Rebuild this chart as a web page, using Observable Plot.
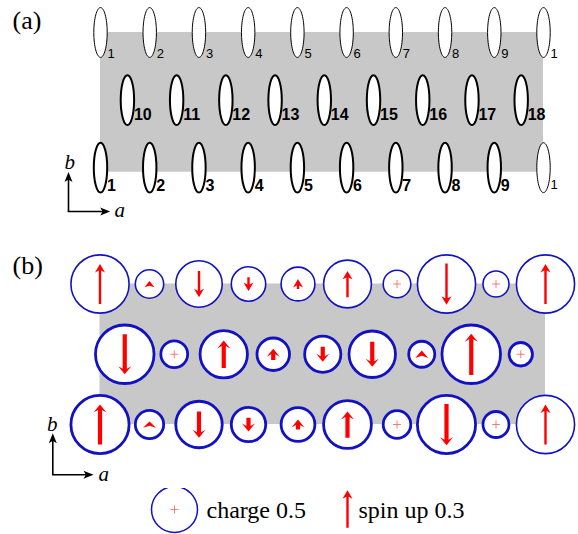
<!DOCTYPE html>
<html>
<head>
<meta charset="utf-8">
<script src="https://cdn.jsdelivr.net/npm/d3@7"></script>
<script src="https://cdn.jsdelivr.net/npm/@observablehq/plot@0.6"></script>
<style>
  html, body { margin: 0; padding: 0; background: #fff; }
  #wrap { width: 578px; height: 534px; overflow: hidden; background: #fff; }
  #wrap svg { display: block; }
</style>
</head>
<body>
<div id="wrap"></div>
<script>
// ---- data -------------------------------------------------------------
// molecules on the cell edges (b = 0 and b = 1); the last one is site 1 of the next cell
const edgeSites    = ["1", "2", "3", "4", "5", "6", "7", "8", "9", "1"];
// molecules in the middle of the cell (b = 1/2)
const centerSites  = ["10", "11", "12", "13", "14", "15", "16", "17", "18"];
// charge on each molecule
const edgeCharge   = [0.80, 0.19, 0.51, 0.28, 0.27, 0.54, 0.18, 0.80, 0.16, 0.80];
const centerCharge = [0.81, 0.17, 0.53, 0.25, 0.31, 0.51, 0.16, 0.81, 0.13];
// spin on each molecule (positive = up)
const edgeSpin     = [0.32, 0.05, -0.21, -0.11, 0.08, 0.21, 0, -0.33, 0, 0.32];
const centerSpin   = [-0.32, 0, 0.22, 0.09, -0.12, -0.20, 0.06, 0.33, 0];
// legend references
const legendCharge = [0.5];
const legendSpin   = [0.3];
// unit cell, in lattice units
const cell = [{a0: 0, a1: edgeSites.length - 1, b0: 0, b1: 1}];

// ---- records built from the arrays -------------------------------------
const sites = [];
for (const b of [1, 0]) {
  edgeSites.forEach((label, i) => sites.push({
    a: i, b, label, charge: edgeCharge[i], spin: edgeSpin[i],
    row: b === 1 ? "top" : "bottom",
    image: b === 1 || i === edgeSites.length - 1
  }));
}
centerSites.forEach((label, i) => sites.push({
  a: i + 0.5, b: 0.5, label, charge: centerCharge[i], spin: centerSpin[i],
  row: "center", image: false
}));
const topRow = sites.filter(d => d.row === "top");
const centerRow = sites.filter(d => d.row === "center");
const bottomMain = sites.filter(d => d.row === "bottom" && !d.image);
const bottomImage = sites.filter(d => d.row === "bottom" && d.image);

// ---- styles --------------------------------------------------------------
const BLUE = "#1212c4", RED = "#ff0000", PLUS = "#ff5c5c", GRAY = "#c8c8c8";
const SANS = "'Liberation Sans', Arial, Helvetica, sans-serif";
const SERIF = "'Liberation Serif', 'Times New Roman', Times, serif";

const ellipse = {
  draw(ctx) {
    const rx = 6.7, ry = 24.9, k = 0.5523;
    ctx.moveTo(rx, 0);
    ctx.bezierCurveTo(rx, k * ry, k * rx, ry, 0, ry);
    ctx.bezierCurveTo(-k * rx, ry, -rx, k * ry, -rx, 0);
    ctx.bezierCurveTo(-rx, -k * ry, -k * rx, -ry, 0, -ry);
    ctx.bezierCurveTo(k * rx, -ry, rx, -k * ry, rx, 0);
    ctx.closePath();
  }
};
const plusSym = {
  draw(ctx) {
    const h = 4;
    ctx.moveTo(-h, 0); ctx.lineTo(h, 0);
    ctx.moveTo(0, -h); ctx.lineTo(0, h);
  }
};
function arrowShape(sw, hw, hl, notch) {
  return {
    draw(ctx, l) {
      if (l > hl) {
        ctx.moveTo(-sw, 0);
        ctx.lineTo(-sw, -l + hl - notch);
        ctx.lineTo(-hw, -l + hl);
        ctx.lineTo(0, -l);
        ctx.lineTo(hw, -l + hl);
        ctx.lineTo(sw, -l + hl - notch);
        ctx.lineTo(sw, 0);
        ctx.closePath();
      } else {
        const n = notch * l / hl;
        ctx.moveTo(0, -l);
        ctx.lineTo(hw, 0);
        ctx.lineTo(0, -n);
        ctx.lineTo(-hw, 0);
        ctx.closePath();
      }
    }
  };
}
const thinArrow = arrowShape(1.2, 5, 8.5, 2);
const thickArrow = arrowShape(2.1, 6.5, 8, 2.5);
const keyArrow = arrowShape(0.8, 4, 10, 2);

const rScale = {type: "sqrt", domain: [0, 0.5], range: [0, 23]};
const lengthScale = {type: "linear", domain: [0, 0.3], range: [0, 37.5]};

// ---- panel (a) -------------------------------------------------------------
const plotA = Plot.plot({
  width: 578, height: 232,
  marginLeft: 100, marginRight: 35, marginTop: 32, marginBottom: 64.8,
  x: {domain: [0, 9], axis: null},
  y: {domain: [0, 1], axis: null},
  marks: [
    Plot.rect(cell, {x1: "a0", x2: "a1", y1: "b0", y2: "b1", fill: GRAY, insetBottom: -4.5}),
    Plot.dot(sites.filter(d => d.row !== "center"), {
      x: "a", y: "b", symbol: ellipse, fill: "white", stroke: "black",
      strokeWidth: d => d.image ? 1 : 2
    }),
    Plot.dot(centerRow, {x: "a", y: "b", dx: 2.3, symbol: ellipse, fill: "white", stroke: "black", strokeWidth: 2}),
    Plot.text(topRow, {x: "a", y: "b", text: "label", dx: 7, dy: 25.3, textAnchor: "start", lineAnchor: "bottom",
      fontSize: 13, fontFamily: SANS, fill: "black"}),
    Plot.text(centerRow, {x: "a", y: "b", text: "label", dx: 8.8, dy: 20.2, textAnchor: "start", lineAnchor: "bottom",
      fontSize: 16, fontWeight: "bold", fontFamily: SANS, fill: "black"}),
    Plot.text(bottomMain, {x: "a", y: "b", text: "label", dx: 6.5, dy: 23, textAnchor: "start", lineAnchor: "bottom",
      fontSize: 16, fontWeight: "bold", fontFamily: SANS, fill: "black"}),
    Plot.text(bottomImage, {x: "a", y: "b", text: "label", dx: 7, dy: 21.5, textAnchor: "start", lineAnchor: "bottom",
      fontSize: 13, fontFamily: SANS, fill: "black"}),
    // a / b axes key
    Plot.vector([0], {frameAnchor: "bottom-left", dx: -32, dy: 43.8, length: 39.5, rotate: 0, anchor: "start",
      shape: keyArrow, fill: "black", stroke: "none"}),
    Plot.vector([0], {frameAnchor: "bottom-left", dx: -32.8, dy: 43.8, length: 42.5, rotate: 90, anchor: "start",
      shape: keyArrow, fill: "black", stroke: "none"}),
    Plot.text(["b"], {frameAnchor: "bottom-left", dx: -36, dy: 0.8, textAnchor: "start", lineAnchor: "bottom",
      fontSize: 21, fontStyle: "italic", fontFamily: SERIF, fill: "black"}),
    Plot.text(["a"], {frameAnchor: "bottom-left", dx: 14, dy: 49.5, textAnchor: "start", lineAnchor: "bottom",
      fontSize: 21, fontStyle: "italic", fontFamily: SERIF, fill: "black"}),
    Plot.text(["(a)"], {frameAnchor: "top-left", dx: -88, dy: -3.7, textAnchor: "start", lineAnchor: "bottom",
      fontSize: 26, fontFamily: SERIF, fill: "black"})
  ]
});

// ---- panel (b) -------------------------------------------------------------
const spinSites = sites.filter(d => d.spin !== 0);
const plotB = Plot.plot({
  width: 578, height: 256,
  marginLeft: 99.5, marginRight: 33, marginTop: 51.5, marginBottom: 64,
  x: {domain: [0, 9], axis: null},
  y: {domain: [0, 1], axis: null},
  r: rScale,
  length: lengthScale,
  marks: [
    Plot.rect(cell, {x1: "a0", x2: "a1", y1: "b0", y2: "b1", fill: GRAY}),
    Plot.dot(sites.filter(d => d.image), {x: "a", y: "b", r: "charge", fill: "white", stroke: BLUE, strokeWidth: 1.6}),
    Plot.dot(sites.filter(d => !d.image), {x: "a", y: "b", r: "charge", fill: "white", stroke: BLUE, strokeWidth: 2.8}),
    Plot.dot(sites.filter(d => d.spin === 0), {x: "a", y: "b", symbol: plusSym, fill: "none", stroke: PLUS, strokeWidth: 0.8}),
    Plot.vector(spinSites.filter(d => d.image), {x: "a", y: "b", length: d => Math.abs(d.spin),
      rotate: d => d.spin > 0 ? 0 : 180, anchor: "middle", shape: thinArrow, fill: RED, stroke: "none"}),
    Plot.vector(spinSites.filter(d => !d.image), {x: "a", y: "b", length: d => Math.abs(d.spin),
      rotate: d => d.spin > 0 ? 0 : 180, anchor: "middle", shape: thickArrow, fill: RED, stroke: "none"}),
    // a / b axes key
    Plot.vector([0], {frameAnchor: "bottom-left", dx: -47.2, dy: 50.3, length: 41.5, rotate: 0, anchor: "start",
      shape: keyArrow, fill: "black", stroke: "none"}),
    Plot.vector([0], {frameAnchor: "bottom-left", dx: -48, dy: 50.3, length: 41.5, rotate: 90, anchor: "start",
      shape: keyArrow, fill: "black", stroke: "none"}),
    Plot.text(["b"], {frameAnchor: "bottom-left", dx: -53, dy: 6, textAnchor: "start", lineAnchor: "bottom",
      fontSize: 21, fontStyle: "italic", fontFamily: SERIF, fill: "black"}),
    Plot.text(["a"], {frameAnchor: "bottom-left", dx: -1.5, dy: 56, textAnchor: "start", lineAnchor: "bottom",
      fontSize: 21, fontStyle: "italic", fontFamily: SERIF, fill: "black"}),
    Plot.text(["(b)"], {frameAnchor: "top-left", dx: -87.5, dy: -10.2, textAnchor: "start", lineAnchor: "bottom",
      fontSize: 26, fontFamily: SERIF, fill: "black"})
  ]
});

// ---- legend ------------------------------------------------------------------
const legend = Plot.plot({
  width: 578, height: 46, margin: 0,
  r: rScale,
  length: lengthScale,
  marks: [
    Plot.dot(legendCharge, {r: d => d, frameAnchor: "left", dx: 174, dy: -2, fill: "white", stroke: BLUE, strokeWidth: 1.5}),
    Plot.dot(legendCharge, {frameAnchor: "left", dx: 174, dy: -2, symbol: plusSym, fill: "none", stroke: PLUS, strokeWidth: 0.8}),
    Plot.text(legendCharge, {text: d => `charge ${d}`, frameAnchor: "left", dx: 206, dy: 6, textAnchor: "start",
      lineAnchor: "bottom", fontSize: 24, fontFamily: SERIF, fill: "black"}),
    Plot.vector(legendSpin, {length: d => d, frameAnchor: "left", dx: 347, dy: -2.5, anchor: "middle",
      shape: thinArrow, fill: RED, stroke: "none"}),
    Plot.text(legendSpin, {text: d => `spin up ${d}`, frameAnchor: "left", dx: 358, dy: 6, textAnchor: "start",
      lineAnchor: "bottom", fontSize: 24, fontFamily: SERIF, fill: "black"})
  ]
});

const wrap = document.getElementById("wrap");
wrap.append(plotA, plotB, legend);
</script>
</body>
</html>
